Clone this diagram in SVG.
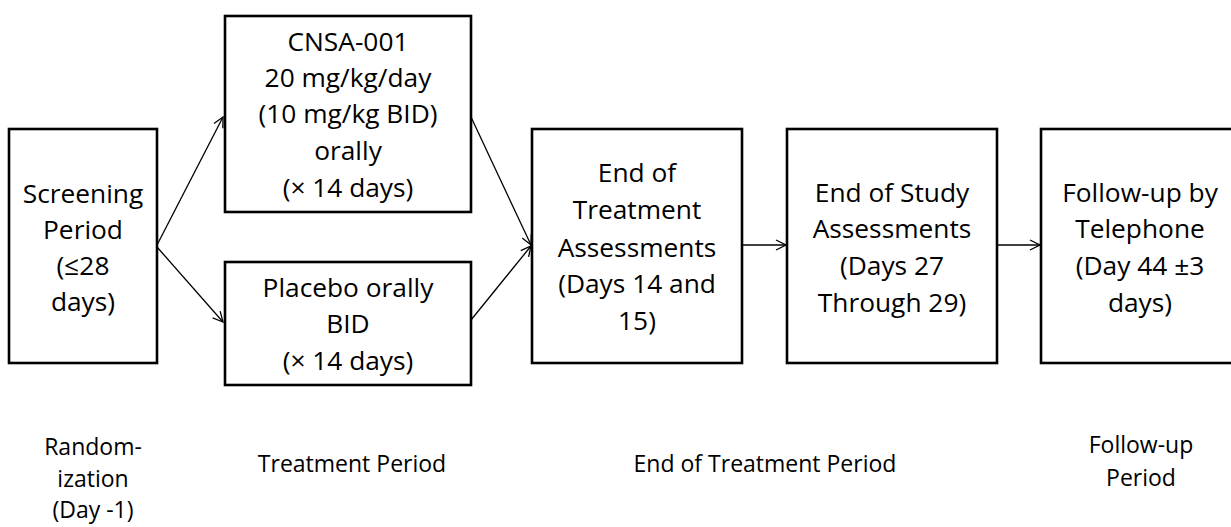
<svg xmlns="http://www.w3.org/2000/svg" width="1231" height="527" viewBox="0 0 1231 527">
<style>
.box{fill:#fff;stroke:#000;stroke-width:2.6}
.t{font-family:"Open Sans",Lato,"Liberation Sans",sans-serif;font-size:26.3px;fill:#000;text-anchor:middle}
.s{font-family:"Open Sans",Lato,"Liberation Sans",sans-serif;font-size:23px;fill:#000;text-anchor:middle}
.c{stroke:#000;stroke-width:1.3;fill:none}
</style>
<defs>
<marker id="ah" viewBox="0 0 12 12" refX="11" refY="6" markerWidth="12" markerHeight="12" markerUnits="userSpaceOnUse" orient="auto">
<path d="M1,1 L11,6 L1,11" fill="none" stroke="#000" stroke-width="1.3"/>
</marker>
</defs>
<rect width="1231" height="527" fill="#fff"/>
<g id="connectors">
<line class="c" x1="157" y1="245" x2="223" y2="117" marker-end="url(#ah)"/>
<line class="c" x1="157" y1="247" x2="223" y2="322" marker-end="url(#ah)"/>
<line class="c" x1="471" y1="117" x2="531" y2="245" marker-end="url(#ah)"/>
<line class="c" x1="471" y1="320" x2="531" y2="246" marker-end="url(#ah)"/>
<line class="c" x1="742" y1="245" x2="786" y2="245" marker-end="url(#ah)"/>
<line class="c" x1="997" y1="245" x2="1040" y2="245" marker-end="url(#ah)"/>
</g>
<g id="screening">
<rect class="box" x="9" y="129" width="148" height="234"/>
<text class="t" x="83" y="203">Screening</text>
<text class="t" x="83" y="239">Period</text>
<text class="t" x="83" y="275">(≤28</text>
<text class="t" x="83" y="311">days)</text>
</g>
<g id="cnsa">
<rect class="box" x="225" y="16" width="246" height="196"/>
<text class="t" x="348" y="51">CNSA-001</text>
<text class="t" x="348" y="87">20 mg/kg/day</text>
<text class="t" x="348" y="123">(10 mg/kg BID)</text>
<text class="t" x="348" y="160">orally</text>
<text class="t" x="348" y="197">(× 14 days)</text>
</g>
<g id="placebo">
<rect class="box" x="225" y="262" width="246" height="123"/>
<text class="t" x="348" y="297">Placebo orally</text>
<text class="t" x="348" y="333">BID</text>
<text class="t" x="348" y="370">(× 14 days)</text>
</g>
<g id="eot">
<rect class="box" x="532" y="129" width="210" height="234"/>
<text class="t" x="637" y="182">End of</text>
<text class="t" x="637" y="219">Treatment</text>
<text class="t" x="637" y="257">Assessments</text>
<text class="t" x="637" y="293">(Days 14 and</text>
<text class="t" x="637" y="330">15)</text>
</g>
<g id="eos">
<rect class="box" x="787" y="129" width="210" height="234"/>
<text class="t" x="892" y="202">End of Study</text>
<text class="t" x="892" y="238">Assessments</text>
<text class="t" x="892" y="275">(Days 27</text>
<text class="t" x="892" y="312">Through 29)</text>
</g>
<g id="followup">
<rect class="box" x="1041" y="129" width="200" height="234"/>
<text class="t" x="1140" y="202">Follow-up by</text>
<text class="t" x="1140" y="238">Telephone</text>
<text class="t" x="1140" y="275">(Day 44 ±3</text>
<text class="t" x="1140" y="312">days)</text>
</g>
<g id="labels">
<text class="s" x="93" y="455">Random-</text>
<text class="s" x="93" y="487">ization</text>
<text class="s" x="93" y="518">(Day -1)</text>
<text class="s" x="352" y="472">Treatment Period</text>
<text class="s" x="765" y="472">End of Treatment Period</text>
<text class="s" x="1141" y="453">Follow-up</text>
<text class="s" x="1141" y="486">Period</text>
</g>
</svg>
